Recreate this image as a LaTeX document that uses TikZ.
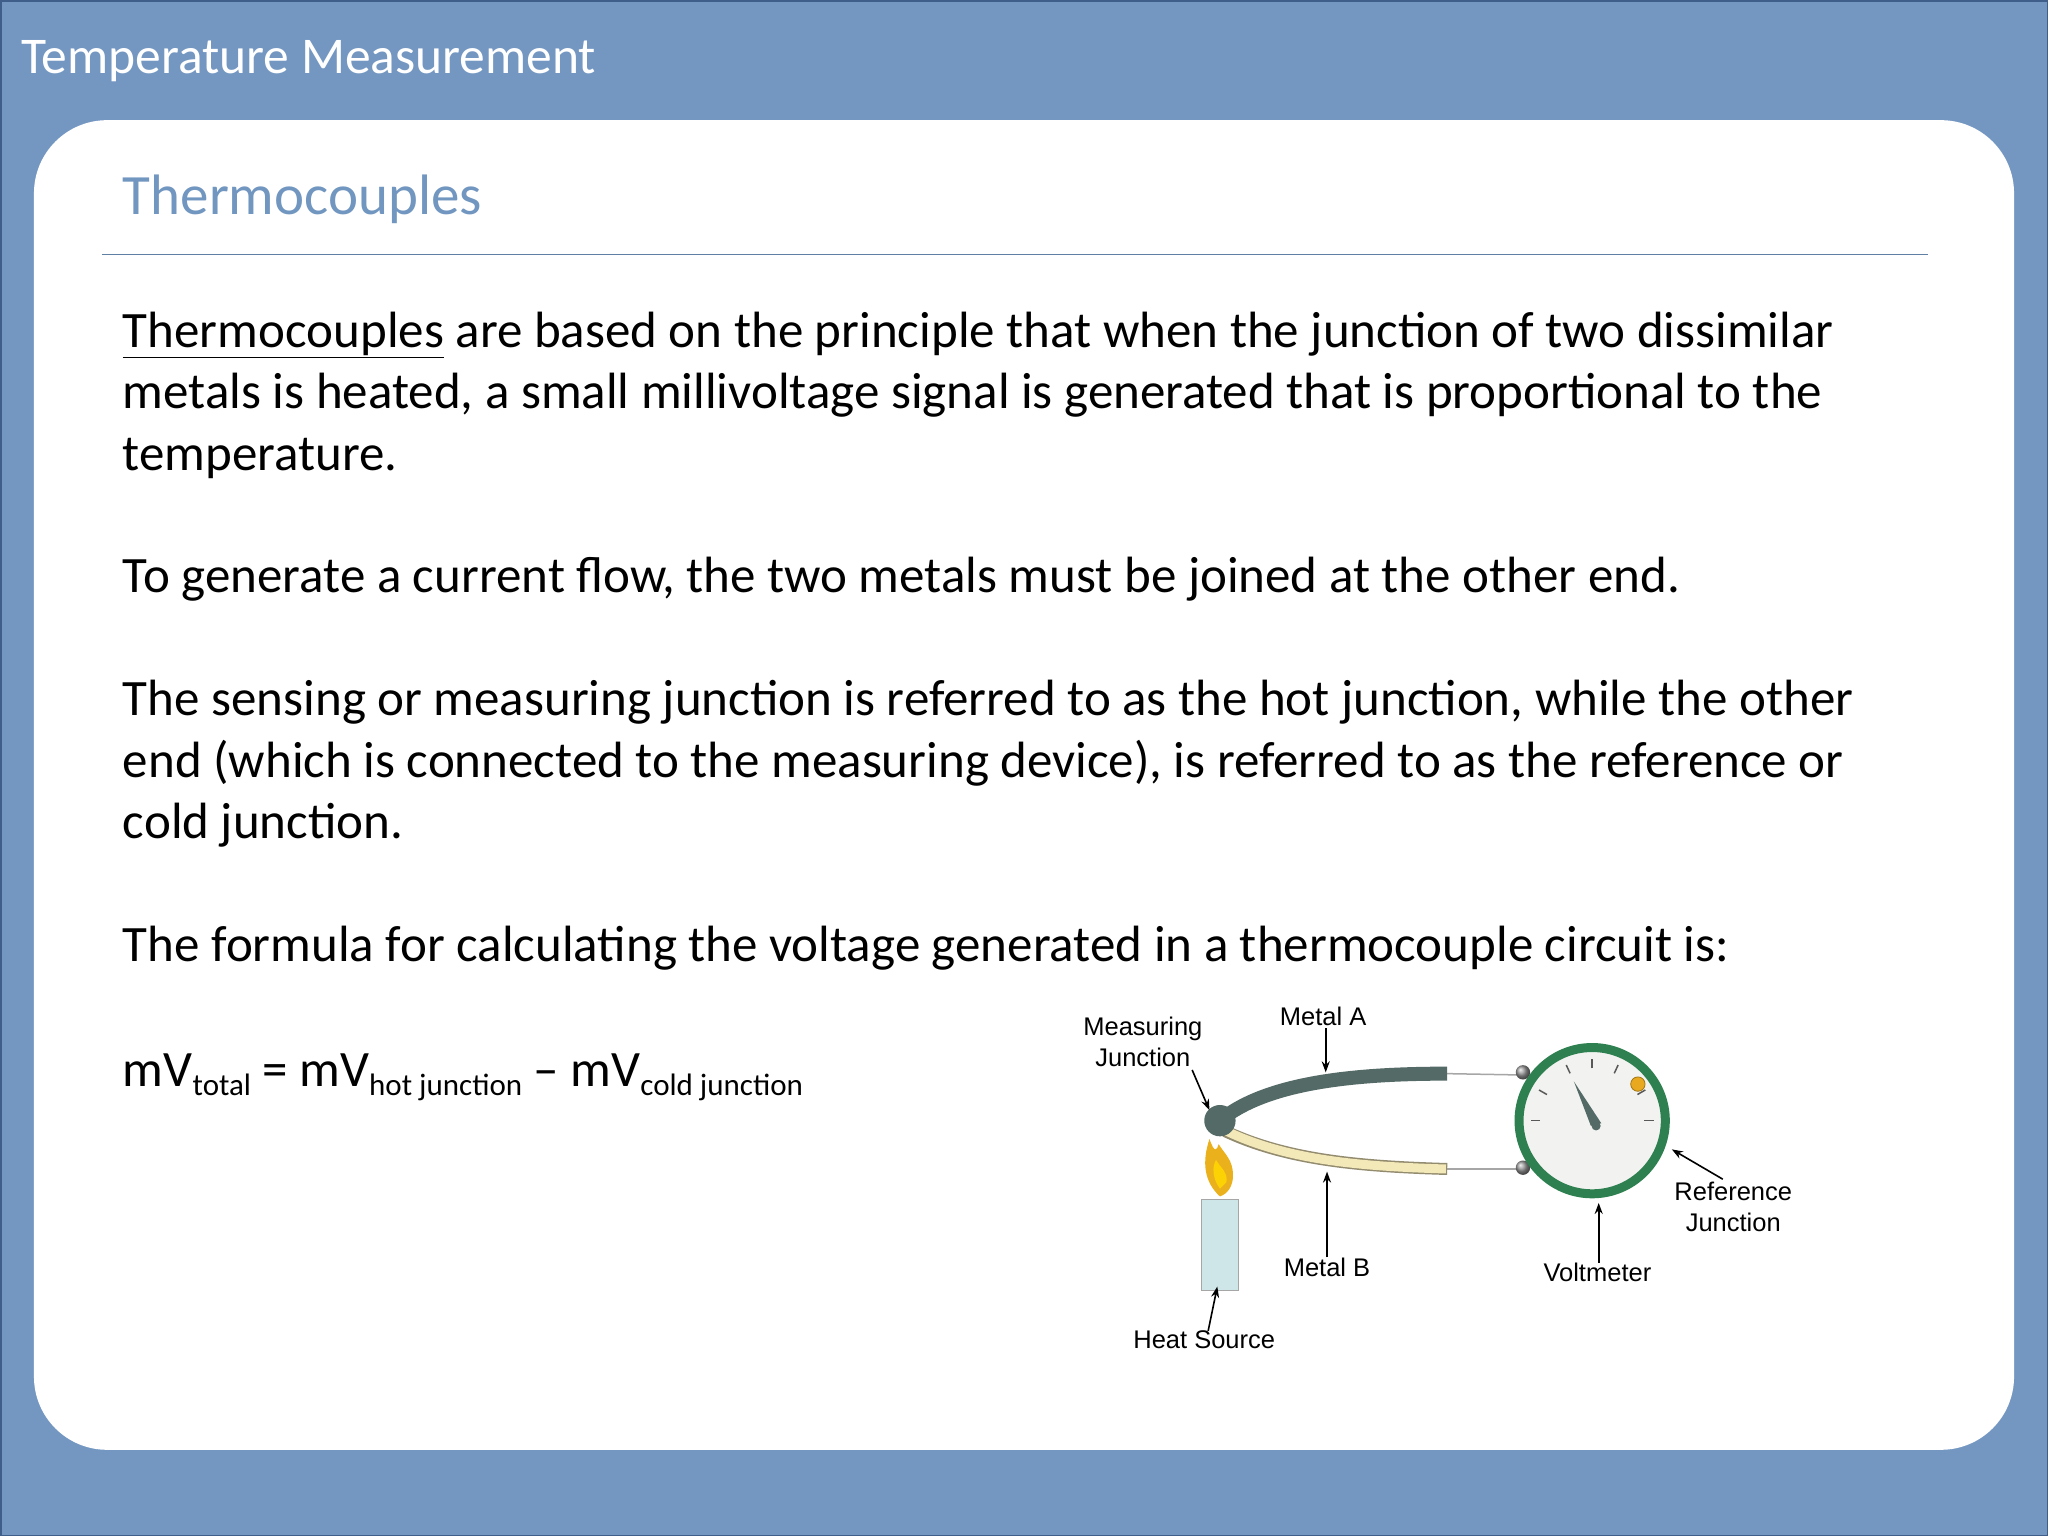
\documentclass[tikz,border=0pt]{standalone}
\usepackage{fontspec}
\usetikzlibrary{calc,arrows.meta}
\setmainfont{Carlito}
\newfontfamily\lab{Liberation Sans}
\definecolor{bgblue}{HTML}{7497C2}
\definecolor{bord}{HTML}{3F5F8A}
\definecolor{headc}{HTML}{7196C0}
\definecolor{metA}{HTML}{546A66}
\definecolor{metB}{HTML}{F3E8B8}
\definecolor{ring}{HTML}{2F8050}
\definecolor{face}{HTML}{F2F3F1}
\definecolor{candle}{HTML}{CFE6E8}
\definecolor{flame}{HTML}{E8A920}
\newcommand\mysub[1]{\raisebox{-9pt}{\fontsize{31}{31}\selectfont #1}}
\tikzset{
  body/.style={anchor=base west,inner sep=0,font=\fontsize{51}{60}\selectfont},
  lbl/.style={inner sep=0,align=center,font=\lab\fontsize{25.5}{31}\selectfont},
  arr/.style={-{Stealth[length=11pt,width=8pt]},line width=1.6pt},
}
\begin{document}
\begin{tikzpicture}[x=1.306pt,y=-1.306pt]
\useasboundingbox (0,0) rectangle (1568,1176);
\fill[bgblue] (0,0) rectangle (1568,1176);
\draw[bord,line width=3pt] (0,0) rectangle (1568,1176);
\node[anchor=base west,inner sep=0,text=white,font=\fontsize{51.5}{60}\selectfont] (title) at (16,56) {Temperature Measurement};
\fill[white,rounded corners=56pt*1.306] (26,92) rectangle (1542,1110);
\node[anchor=base west,inner sep=0,text=headc,font=\fontsize{57}{66}\selectfont] (head) at (94,164) {Thermocouples};
\draw[headc!85!black,line width=1.5pt] (78,195) -- (1476,195);
\node[body] (l1) at (94,266) {\underline{Thermocouples} are based on the principle that when the junction of two dissimilar};
\node[body] (l2) at (94,313) {metals is heated, a small millivoltage signal is generated that is proportional to the};
\node[body] (l3) at (94,360) {temperature.};
\node[body] (l4) at (94,454) {To generate a current flow, the two metals must be joined at the other end.};
\node[body] (l5) at (94,548) {The sensing or measuring junction is referred to as the hot junction, while the other};
\node[body] (l6) at (94,595) {end (which is connected to the measuring device), is referred to as the reference or};
\node[body] (l7) at (94,642) {cold junction.};
\node[body] (l8) at (94,736) {The formula for calculating the voltage generated in a thermocouple circuit is:};
\node[body] (l9) at (94,832) {mV\mysub{total} = mV\mysub{hot junction} -- mV\mysub{cold junction}};
% diagram
\coordinate (J) at (934,858);
\coordinate (AE) at (1108,822);
\coordinate (BE) at (1108,895);
\draw[gray!70,line width=1.5pt] (AE) -- (1163,823);
\draw[gray!70,line width=1.5pt] (BE) -- (1163,895);
\draw[metB!60!black,line width=12pt] (938,866) .. controls (985,888) and (1040,893) .. (BE);
\draw[metB,line width=9pt] (939,866) .. controls (985,888) and (1040,893) .. (1107,895);
\draw[metA,line width=14pt] (J) .. controls (970,828) and (1040,822) .. (AE);
\fill[metA] (J) circle (12);
\shade[ball color=gray!80] (1166,821) circle (5.5);
\shade[ball color=gray!80] (1166,894) circle (5.5);
\node[circle,minimum size=112*1.306pt,draw=ring,line width=9pt,fill=face] (vm) at (1219,858) {};
\foreach \a in {0,-30,-65,-90,-115,-150,-180}{
  \draw[gray!70!black,line width=1.5pt] ($(vm.center)+(\a:40)$) -- ($(vm.center)+(\a:47)$);}
\fill[flame] (1254,830) circle (5.5);
\draw[flame!70!black,line width=0.8pt] (1254,830) circle (5.5);
\fill[metA] (1218,862) -- (1205,828) -- (1226,860) -- cycle;
\fill[metA] (1222,862) circle (3.5);
% flame and candle
\fill[flame!90!yellow] (934,916) .. controls (922,905) and (920,890) .. (926,872) .. controls (930,884) and (932,880) .. (933,876) .. controls (938,884) and (944,888) .. (944,900) .. controls (944,908) and (940,914) .. cycle;
\fill[yellow!70!orange] (934,910) .. controls (928,902) and (928,893) .. (931,888) .. controls (935,895) and (940,897) .. (939,905) -- cycle;
\fill[candle] (920,918) rectangle (948,988);
\draw[gray!70,line width=0.8pt] (920,918) rectangle (948,988);
% labels
\node[lbl] (mj) at (875,798) {Measuring\\Junction};
\node[lbl] (ma) at (1013,778) {Metal A};
\node[lbl] (mb) at (1016,970) {Metal B};
\node[lbl] (vl) at (1223,974) {Voltmeter};
\node[lbl] (rj) at (1327,924) {Reference\\Junction};
\node[lbl] (hs) at (922,1026) {Heat Source};
\coordinate (aA) at (1015,821);
\coordinate (aB) at (1016,897);
\draw[arr] (mj.south east) ++(-8,2) -- (926,850);
\draw[arr] (ma.south) ++(2,2) -- (aA);
\draw[arr] (mb.north) -- (aB);
\draw[arr] (vl.north) ++(1,0) -- (1224,921);
\draw[arr] (rj.north) ++(-8,-2) -- (1280,880);
\draw[arr] (hs.north) ++(3,0) -- (932,985);
\end{tikzpicture}
\end{document}
